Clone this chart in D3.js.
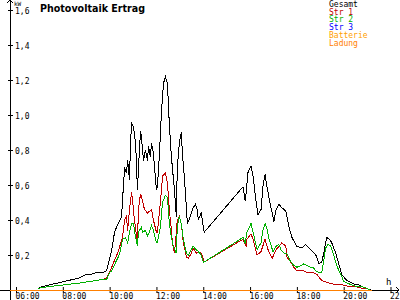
<!DOCTYPE html>
<html>
<head>
<meta charset="utf-8">
<script src="https://cdn.jsdelivr.net/npm/d3@7"></script>
<style>
    body { margin: 0; background: #fff; }
    svg { display: block; }
    text { font-family: "DejaVu Sans Mono", monospace; }
</style>
</head>
<body>
<div id="chart"></div>
<script>
// time in decimal hours, power in kW
const gesamt = [[6.94,0.01],[7.15,0.02],[7.45,0.03],[7.79,0.04],[8.09,0.05],[8.43,0.06],[8.72,0.07],[9.02,0.09],[9.23,0.09],[9.45,0.10],[9.70,0.10],[9.87,0.11],[10.00,0.18],[10.09,0.23],[10.21,0.33],[10.30,0.36],[10.51,0.42],[10.55,0.51],[10.64,0.70],[10.72,0.67],[10.77,0.74],[10.85,0.63],[10.89,0.84],[10.94,0.95],[11.02,0.93],[11.11,0.84],[11.19,0.57],[11.23,0.69],[11.32,0.91],[11.36,0.87],[11.45,0.74],[11.53,0.80],[11.62,0.74],[11.66,0.82],[11.74,0.76],[11.79,0.84],[11.87,0.78],[12.00,0.57],[12.04,0.59],[12.13,0.78],[12.21,1.01],[12.30,1.18],[12.38,1.22],[12.47,1.18],[12.55,0.95],[12.64,0.76],[12.77,0.57],[12.85,0.42],[12.89,0.70],[12.98,0.84],[13.06,0.90],[13.11,0.78],[13.19,0.65],[13.28,0.47],[13.32,0.38],[13.40,0.40],[13.49,0.44],[13.57,0.47],[13.66,0.49],[13.74,0.46],[13.79,0.40],[13.91,0.44],[13.96,0.40],[14.04,0.33],[15.70,0.59],[15.79,0.51],[15.83,0.55],[15.91,0.67],[16.04,0.71],[16.13,0.65],[16.26,0.50],[16.34,0.43],[16.47,0.46],[16.55,0.59],[16.64,0.66],[16.72,0.59],[16.85,0.50],[17.02,0.39],[17.11,0.46],[17.23,0.49],[17.36,0.47],[17.53,0.45],[17.66,0.36],[17.79,0.30],[18.00,0.25],[18.21,0.24],[18.38,0.26],[18.60,0.23],[18.81,0.20],[18.94,0.15],[19.06,0.16],[19.15,0.21],[19.23,0.27],[19.28,0.30],[19.40,0.29],[19.49,0.27],[19.66,0.21],[19.79,0.15],[19.91,0.09],[20.09,0.06],[20.21,0.05],[20.34,0.04],[20.51,0.03],[20.64,0.03],[20.77,0.02],[20.98,0.01],[21.15,0]]

const str1 = [[6.94,0.01],[7.45,0.02],[8.09,0.03],[8.72,0.04],[9.23,0.05],[9.70,0.06],[9.87,0.07],[10.00,0.10],[10.09,0.13],[10.21,0.17],[10.34,0.21],[10.55,0.30],[10.64,0.40],[10.72,0.42],[10.77,0.34],[10.85,0.46],[10.94,0.56],[10.98,0.51],[11.06,0.40],[11.19,0.27],[11.23,0.46],[11.32,0.55],[11.40,0.51],[11.49,0.46],[11.62,0.44],[11.79,0.46],[11.87,0.40],[12.00,0.33],[12.04,0.33],[12.17,0.50],[12.26,0.65],[12.38,0.67],[12.47,0.61],[12.55,0.46],[12.64,0.34],[12.68,0.27],[12.77,0.21],[12.85,0.33],[12.89,0.40],[12.98,0.42],[13.06,0.38],[13.15,0.27],[13.28,0.19],[13.36,0.18],[13.49,0.21],[13.57,0.24],[13.70,0.21],[13.79,0.22],[13.91,0.21],[14.00,0.18],[14.04,0.16],[15.70,0.29],[15.83,0.25],[15.87,0.29],[16.04,0.32],[16.13,0.29],[16.30,0.20],[16.47,0.22],[16.64,0.29],[16.77,0.23],[16.94,0.18],[17.11,0.23],[17.36,0.27],[17.53,0.25],[17.57,0.19],[17.74,0.16],[17.87,0.13],[18.00,0.11],[18.17,0.11],[18.30,0.11],[18.43,0.10],[18.60,0.10],[18.68,0.10],[18.85,0.09],[19.02,0.06],[19.15,0.05],[19.36,0.04],[19.66,0.03],[19.91,0.03],[20.21,0.02],[20.51,0.02],[20.77,0.01],[20.98,0.01],[21.11,0]]

const str2 = [[6.94,0.01],[7.45,0.02],[8.09,0.03],[8.72,0.04],[9.23,0.05],[9.70,0.06],[9.87,0.06],[10.00,0.10],[10.09,0.11],[10.30,0.17],[10.34,0.18],[10.43,0.21],[10.55,0.29],[10.68,0.30],[10.77,0.27],[10.85,0.33],[10.94,0.38],[11.02,0.38],[11.11,0.30],[11.19,0.25],[11.23,0.33],[11.36,0.36],[11.40,0.33],[11.53,0.34],[11.62,0.31],[11.70,0.33],[11.79,0.37],[11.87,0.34],[12.00,0.27],[12.04,0.27],[12.17,0.36],[12.26,0.50],[12.38,0.54],[12.47,0.53],[12.55,0.38],[12.64,0.30],[12.72,0.25],[12.85,0.21],[12.89,0.36],[12.98,0.42],[13.06,0.38],[13.15,0.29],[13.28,0.21],[13.36,0.20],[13.49,0.23],[13.57,0.25],[13.70,0.23],[13.79,0.22],[13.91,0.20],[14.00,0.16],[14.04,0.16],[15.70,0.30],[15.79,0.27],[15.87,0.33],[16.04,0.38],[16.13,0.33],[16.30,0.23],[16.47,0.27],[16.55,0.34],[16.64,0.38],[16.72,0.35],[16.81,0.29],[16.98,0.22],[17.11,0.25],[17.23,0.26],[17.32,0.23],[17.45,0.21],[17.57,0.21],[17.70,0.17],[17.87,0.14],[18.00,0.13],[18.17,0.14],[18.30,0.15],[18.43,0.14],[18.60,0.13],[18.68,0.13],[18.81,0.11],[18.94,0.10],[19.06,0.10],[19.15,0.17],[19.23,0.24],[19.32,0.26],[19.45,0.25],[19.57,0.20],[19.70,0.14],[19.87,0.09],[20.00,0.05],[20.13,0.04],[20.34,0.03],[20.55,0.02],[20.77,0.02],[20.98,0.01],[21.11,0]]

const str3 = [[5.74,0],[21.21,0]]
const batterie = [[5.74,0],[21.21,0]]
const ladung = [[5.74,0],[21.21,0]]

const legendNames = ["Gesamt", "Str 1", "Str 2", "Str 3", "Batterie", "Ladung"]
const legendColors = ["#000000", "#c00000", "#00b000", "#0000ff", "#ffa000", "#ff8000"]
const hourTicks = [6, 8, 10, 12, 14, 16, 18, 20, 22]
const kwTicks = [0.2, 0.4, 0.6, 0.8, 1.0, 1.2, 1.4, 1.6]

const width = 400
const height = 300

const svg = d3.select("#chart")
    .append("svg")
    .attr("width", width)
    .attr("height", height)

const x = d3.scaleLinear().domain([6, 22]).range([16, 390.5])
const y = d3.scaleLinear().domain([0, 1.6]).range([290, 10])

const line = d3.line()
    .x(d => x(d[0]))
    .y(d => y(d[1]))

// axes
const xAxis = svg.append("g")
    .attr("transform", `translate(0,${y(0)})`)
    .call(d3.axisBottom(x).tickValues(hourTicks).tickSizeOuter(0)
        .tickFormat(d => d3.format("02d")(d) + ":00"))
xAxis.select(".domain").remove()
xAxis.selectAll(".tick line").attr("y1", -3).attr("y2", 3).attr("stroke", "#000")
xAxis.selectAll(".tick text")
    .attr("text-anchor", "start")
    .attr("x", -1)
    .attr("y", 3)
    .attr("dy", "0.71em")
    .style("font-size", "8px")
    .attr("fill", "#000")

const yAxis = svg.append("g")
    .attr("transform", "translate(10,0)")
    .call(d3.axisRight(y).tickValues(kwTicks).tickSizeOuter(0)
        .tickFormat(d => d3.format(".1f")(d).replace(".", ",")))
yAxis.select(".domain").remove()
yAxis.selectAll(".tick line").attr("x1", -2).attr("x2", 3).attr("stroke", "#000")
yAxis.selectAll(".tick text")
    .attr("x", 5)
    .attr("dy", "0.45em")
    .style("font-size", "8px")
    .attr("fill", "#000")

svg.append("line")
    .attr("x1", 0).attr("x2", 399)
    .attr("y1", y(0)).attr("y2", y(0))
    .attr("stroke", "#000")
    .attr("shape-rendering", "crispEdges")
svg.append("path")
    .attr("d", `M396,${y(0) - 3}L399,${y(0)}L396,${y(0) + 3}`)
    .attr("fill", "none")
    .attr("stroke", "#000")
    .attr("shape-rendering", "crispEdges")
svg.append("line")
    .attr("x1", 10).attr("x2", 10)
    .attr("y1", 0).attr("y2", 300)
    .attr("stroke", "#000")
    .attr("shape-rendering", "crispEdges")
svg.append("path")
    .attr("d", "M7,3L10,0L13,3")
    .attr("fill", "none")
    .attr("stroke", "#000")
    .attr("shape-rendering", "crispEdges")

svg.append("text").text("kW")
    .attr("x", 14).attr("y", 6)
    .style("font-size", "6px")
svg.append("text").text("h")
    .attr("x", 386).attr("y", 285)
    .style("font-size", "9px")

svg.append("text").text("Photovoltaik Ertrag")
    .attr("x", 40).attr("y", 12)
    .attr("textLength", 105)
    .attr("lengthAdjust", "spacingAndGlyphs")
    .style("font-family", "'DejaVu Sans', sans-serif")
    .style("font-weight", "bold")
    .style("font-size", "11px")

// series
const series = [gesamt, str1, str2, str3, batterie, ladung]
svg.selectAll(".series")
    .data(series)
    .enter()
    .append("path")
    .attr("class", "series")
    .attr("d", d => line(d))
    .attr("fill", "none")
    .attr("stroke", (d, i) => legendColors[i])
    .attr("stroke-width", 1)
    .attr("shape-rendering", "crispEdges")

// legend
svg.selectAll(".legend")
    .data(legendNames)
    .enter()
    .append("text")
    .attr("class", "legend")
    .text(d => d)
    .attr("x", 329)
    .attr("y", (d, i) => 7 + i * 7.7)
    .attr("fill", (d, i) => legendColors[i])
    .style("font-size", "8px")
</script>
</body>
</html>
